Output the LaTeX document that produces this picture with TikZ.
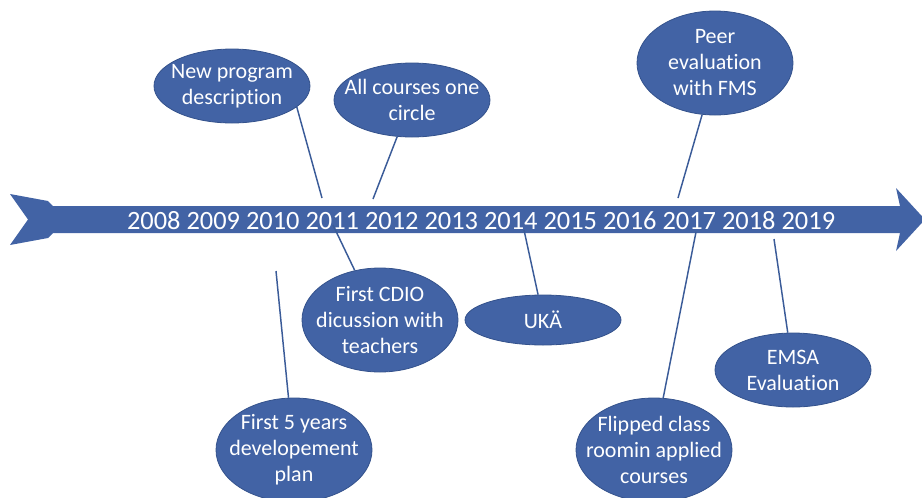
\documentclass[tikz,border=0pt]{standalone}
\usepackage{fontspec}
\setmainfont{Carlito}[Ligatures=NoCommon]
\usepackage{tikz}
\usetikzlibrary{shapes,positioning,calc}
\definecolor{eventblue}{HTML}{4263A5}
\definecolor{eventedge}{HTML}{34528C}
\definecolor{linkblue}{HTML}{3A5B98}

\begin{document}
\begin{tikzpicture}[x=0.75pt,y=-0.75pt,
  event/.style={ellipse,fill=eventblue,draw=eventedge,line width=0.6pt,inner sep=0pt,minimum width=117pt},
  eventtext/.style={text=white,align=center,font=\fontsize{16.5}{19.5}\selectfont},
  link/.style={linkblue,line width=1.1pt}]
  \useasboundingbox (0,0) rectangle (922,497);

  % Draw the time axis (arrow with notched tail)
  \fill[eventblue] (10,194) -- (48,201) -- (53,206) -- (900,206) -- (896,188) -- (925,219.5)
    -- (896,251) -- (900,233) -- (53,233) -- (48,238) -- (10,245) -- (28,219.5) -- cycle;
  \node[text=white,font=\fontsize{19.8}{24}\selectfont] (years) at (481,220.5)
    {2008 2009 2010 2011 2012 2013 2014 2015 2016 2017 2018 2019};

  % Connectors from each event towards its year
  \foreach \name/\x/\y in {newprog/322/198, allcourses/373/199, cdio/333/225, uka/524/230,
                           plan/276/271, peer/678/198, flipped/696/232, emsa/774/239} {
    \coordinate (\name-end) at (\x,\y);
  }

  % Events above and below the axis
  \foreach \name/\x/\y/\h/\txt in {newprog/232/86/55.5/New program\\description,
                                  allcourses/412/100/55.5/All courses one\\circle,
                                  cdio/380/320/78/First CDIO\\dicussion with\\teachers,
                                  uka/543/320/37.5/UKÄ,
                                  plan/294/450/78/First 5 years\\developement\\plan,
                                  peer/715/63/78/Peer\\evaluation\\with FMS,
                                  flipped/654/450/78/Flipped class\\roomin applied\\courses,
                                  emsa/793/370/55.5/EMSA\\Evaluation} {
    \node[event,minimum height=\h pt] (\name) at (\x,\y) {};
    \node[eventtext] at (\name) {\txt};
  }

  \foreach \name/\ang in {newprog/-18, allcourses/-112, cdio/117, uka/101,
                          plan/96, peer/-104, flipped/80, emsa/98} {
    \draw[link] (\name.\ang) -- (\name-end);
  }
\end{tikzpicture}
\end{document}
